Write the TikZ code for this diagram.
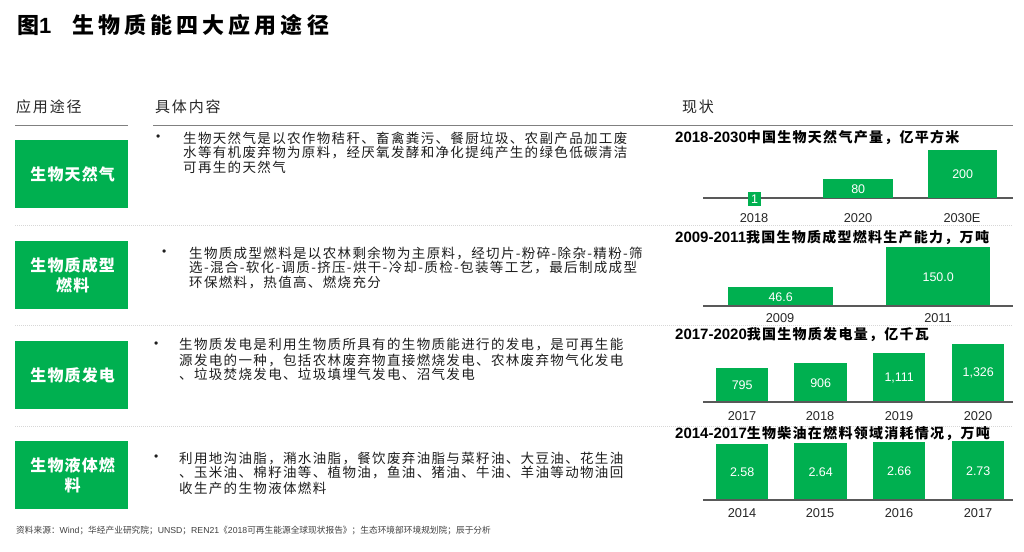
\documentclass[tikz,border=0pt]{standalone}
\usepackage{fontspec}
\setmainfont{Liberation Sans}
\newfontfamily\cjk{Noto Sans CJK SC}
\newfontfamily\cjkbody[LetterSpace=10]{Noto Sans CJK SC}
\newfontfamily\cjkhead[LetterSpace=12]{Noto Sans CJK SC}
\newfontfamily\cjkbig[LetterSpace=18.6]{Noto Sans CJK SC}
\newfontfamily\cjkbox[LetterSpace=7]{Noto Sans CJK SC}
\newfontfamily\cjkct[LetterSpace=9]{Noto Sans CJK SC}
\definecolor{gr}{RGB}{0,176,80}
\definecolor{axisc}{RGB}{89,89,89}
\definecolor{hline}{RGB}{128,128,128}
\definecolor{sepc}{RGB}{215,215,215}
\definecolor{bodyc}{RGB}{30,30,30}
\begin{document}
\begin{tikzpicture}[x=1pt,y=-1pt,
  gbox/.style={fill=gr,draw=none,minimum width=113pt,minimum height=68pt,anchor=north west,inner sep=0pt},
  boxlbl/.style={text=white,font=\fontsize{16}{20}\selectfont\cjkbox\bfseries,align=center,inner sep=0pt},
  line/.style={anchor=west,inner sep=0pt,text=bodyc,font=\fontsize{13.5}{15}\selectfont\cjkbody},
  bul/.style={anchor=west,inner sep=0pt,text=bodyc,font=\fontsize{12}{12}\selectfont},
  bar/.style={fill=gr,draw=none,anchor=north west,inner sep=0pt},
  val/.style={text=white,inner sep=0pt,font=\fontsize{12.5}{14}\selectfont},
  cat/.style={text=black!85,inner sep=0pt,font=\fontsize{12.8}{14}\selectfont},
  ctitle/.style={anchor=west,inner sep=0pt,text=black,font=\fontsize{15}{16}\selectfont\bfseries},
  axisl/.style={draw=axisc,line width=1.1pt},
  sep/.style={draw=sepc,line width=0.6pt,dash pattern=on 1pt off 1pt},
  hdr/.style={anchor=west,inner sep=0pt,text=black!85,font=\fontsize{15}{16}\selectfont\cjkhead}
]
\useasboundingbox[fill=white] (0,0) rectangle (1024,551);

% title
\node[anchor=west,inner sep=0pt,font=\fontsize{22}{24}\selectfont\bfseries] (title) at (17,25)
  {\makebox[55pt][l]{{\cjk\bfseries 图}1}{\cjkbig\bfseries 生物质能四大应用途径}};

% headers
\node[hdr] (h1) at (16,107) {应用途径};
\node[hdr] (h2) at (155,107) {具体内容};
\node[hdr] (h3) at (682,107) {现状};
\coordinate (hl1a) at (15,125); \coordinate (hl1b) at (128,125);
\coordinate (hl2a) at (153,125); \coordinate (hl2b) at (1013,125);
\draw[draw=hline,line width=1pt] (hl1a) -- (hl1b);
\draw[draw=hline,line width=1pt] (hl2a) -- (hl2b);

% separators
\coordinate (s1a) at (15,225); \coordinate (s1b) at (1013,225);
\coordinate (s2a) at (15,325); \coordinate (s2b) at (1013,325);
\coordinate (s3a) at (15,426); \coordinate (s3b) at (1013,426);
\draw[sep] (s1a) -- (s1b);
\draw[sep] (s2a) -- (s2b);
\draw[sep] (s3a) -- (s3b);

% green boxes
\node[gbox] (g1) at (15,140) {};
\node[gbox] (g2) at (15,241) {};
\node[gbox] (g3) at (15,341) {};
\node[gbox] (g4) at (15,441) {};
\node[boxlbl] (g1t) at ([xshift=1pt]g1.center) {生物天然气};
\node[boxlbl] (g2t) at ([xshift=1pt]g2.center) {生物质成型\\燃料};
\node[boxlbl] (g3t) at ([xshift=1pt]g3.center) {生物质发电};
\node[boxlbl] (g4t) at ([xshift=1pt]g4.center) {生物液体燃\\料};

% row 1 text
\node[bul] (b1) at (156,138) {•};
\node[line] (r1l1) at (183,138) {生物天然气是以农作物秸秆、畜禽粪污、餐厨垃圾、农副产品加工废};
\node[line] (r1l2) at (183,152.5) {水等有机废弃物为原料，经厌氧发酵和净化提纯产生的绿色低碳清洁};
\node[line] (r1l3) at (183,167) {可再生的天然气};
% row 2 text
\node[bul] (b2) at (162,253) {•};
\node[line] (r2l1) at (189,253) {生物质成型燃料是以农林剩余物为主原料，经切片-粉碎-除杂-精粉-筛};
\node[line] (r2l2) at (189,268) {选-混合-软化-调质-挤压-烘干-冷却-质检-包装等工艺，最后制成成型};
\node[line] (r2l3) at (189,283) {环保燃料，热值高、燃烧充分};
% row 3 text
\node[bul] (b3) at (154,345) {•};
\node[line] (r3l1) at (179,345) {生物质发电是利用生物质所具有的生物质能进行的发电，是可再生能};
\node[line] (r3l2) at (179,360) {源发电的一种，包括农林废弃物直接燃烧发电、农林废弃物气化发电};
\node[line] (r3l3) at (179,374.5) {、垃圾焚烧发电、垃圾填埋气发电、沼气发电};
% row 4 text
\node[bul] (b4) at (154,458) {•};
\node[line] (r4l1) at (179,458) {利用地沟油脂，潲水油脂，餐饮废弃油脂与菜籽油、大豆油、花生油};
\node[line] (r4l2) at (179,473) {、玉米油、棉籽油等、植物油，鱼油、猪油、牛油、羊油等动物油回};
\node[line] (r4l3) at (179,488) {收生产的生物液体燃料};

% chart 1
\node[ctitle] (c1t) at (675,137) {2018-2030{\cjkct\bfseries\fontsize{14}{16}\selectfont 中国生物天然气产量，亿平方米}};
\coordinate (a1a) at (703,198); \coordinate (a1b) at (1013,198);
\draw[axisl] (a1a) -- (a1b);
\node[bar,minimum width=13pt,minimum height=14pt] (c1b1) at (748,192) {};
\node[bar,minimum width=70pt,minimum height=19pt] (c1b2) at (823,179) {};
\node[bar,minimum width=69pt,minimum height=48pt] (c1b3) at (928,150) {};
\node[val] (c1v1) at (c1b1.center) {1};
\node[val] (c1v2) at (c1b2.center) {80};
\node[val] (c1v3) at (c1b3.center) {200};
\node[cat] (c1c1) at (754,218) {2018};
\node[cat] (c1c2) at (858,218) {2020};
\node[cat] (c1c3) at (962,218) {2030E};

% chart 2
\node[ctitle] (c2t) at (675,237) {2009-2011{\cjkct\bfseries\fontsize{14}{16}\selectfont 我国生物质成型燃料生产能力，万吨}};
\coordinate (a2a) at (703,306); \coordinate (a2b) at (1013,306);
\node[bar,minimum width=105pt,minimum height=19pt] (c2b1) at (728,287) {};
\node[bar,minimum width=104pt,minimum height=59pt] (c2b2) at (886,247) {};
\draw[axisl] (a2a) -- (a2b);
\node[val] (c2v1) at (c2b1.center) {46.6};
\node[val] (c2v2) at (c2b2.center) {150.0};
\node[cat] (c2c1) at (780,318) {2009};
\node[cat] (c2c2) at (938,318) {2011};

% chart 3
\node[ctitle] (c3t) at (675,335) {2017-2020{\cjkct\bfseries\fontsize{14}{16}\selectfont 我国生物质发电量，亿千瓦}};
\coordinate (a3a) at (703,402); \coordinate (a3b) at (1013,402);
\node[bar,minimum width=52pt,minimum height=34pt] (c3b1) at (716,368) {};
\node[bar,minimum width=53pt,minimum height=39pt] (c3b2) at (794,363) {};
\node[bar,minimum width=52pt,minimum height=49pt] (c3b3) at (873,353) {};
\node[bar,minimum width=52pt,minimum height=58pt] (c3b4) at (952,344) {};
\draw[axisl] (a3a) -- (a3b);
\node[val] (c3v1) at (c3b1.center) {795};
\node[val] (c3v2) at (c3b2.center) {906};
\node[val] (c3v3) at (c3b3.center) {1,111};
\node[val] (c3v4) at (c3b4.center) {1,326};
\node[cat] (c3c1) at (742,416) {2017};
\node[cat] (c3c2) at (820,416) {2018};
\node[cat] (c3c3) at (899,416) {2019};
\node[cat] (c3c4) at (978,416) {2020};

% chart 4
\node[bar,minimum width=52pt,minimum height=56pt] (c4b1) at (716,444) {};
\node[bar,minimum width=53pt,minimum height=57pt] (c4b2) at (794,443) {};
\node[bar,minimum width=52pt,minimum height=58pt] (c4b3) at (873,442) {};
\node[bar,minimum width=52pt,minimum height=59pt] (c4b4) at (952,441) {};
\node[ctitle] (c4t) at (675,434) {2014-2017{\cjkct\bfseries\fontsize{14}{16}\selectfont 生物柴油在燃料领域消耗情况，万吨}};
\coordinate (a4a) at (703,500); \coordinate (a4b) at (1013,500);
\draw[axisl] (a4a) -- (a4b);
\node[val] (c4v1) at (c4b1.center) {2.58};
\node[val] (c4v2) at (c4b2.center) {2.64};
\node[val] (c4v3) at (c4b3.center) {2.66};
\node[val] (c4v4) at (c4b4.center) {2.73};
\node[cat] (c4c1) at (742,513) {2014};
\node[cat] (c4c2) at (820,513) {2015};
\node[cat] (c4c3) at (899,513) {2016};
\node[cat] (c4c4) at (978,513) {2017};

% footer
\node[anchor=west,inner sep=0pt,text=black!75,font=\fontsize{8.7}{10}\selectfont] (foot) at (16,530)
  {{\cjk 资料来源：}Wind{\cjk ；华经产业研究院；}UNSD{\cjk ；}REN21{\cjk 《}2018{\cjk 可再生能源全球现状报告》；生态环境部环境规划院；辰于分析}};
\end{tikzpicture}
\end{document}
